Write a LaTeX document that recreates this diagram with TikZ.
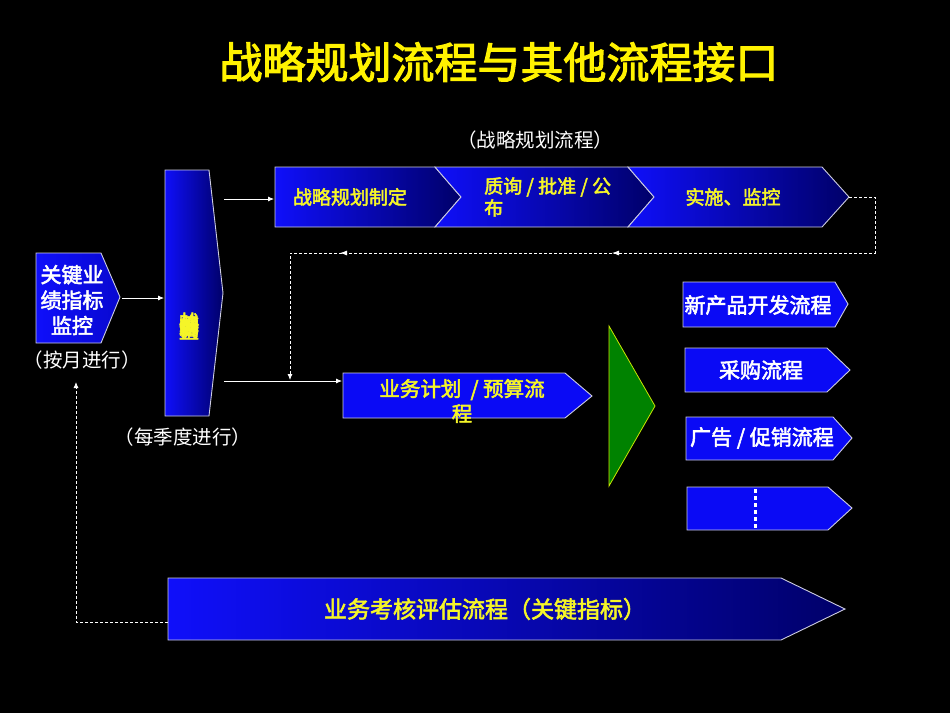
\documentclass[tikz,border=0pt]{standalone}
\usepackage{fontspec}
\newfontfamily\cjk{Noto Sans CJK SC}
\newfontfamily\cjkb[FakeBold=2.5]{Noto Sans CJK SC}
\usetikzlibrary{arrows.meta,decorations.markings}
\definecolor{blueL}{RGB}{15,15,250}
\definecolor{blueD}{RGB}{0,0,105}
\definecolor{blueS}{RGB}{10,10,245}
\definecolor{edge}{RGB}{205,205,225}
\definecolor{ytxt}{RGB}{245,245,40}
\definecolor{greenT}{RGB}{0,130,0}
\definecolor{greenE}{RGB}{200,230,0}
\tikzset{
  boxline/.style={draw=edge, line width=0.9pt, line join=miter},
  gradbox/.style={left color=blueL, right color=blueD, boxline},
  solidbox/.style={fill=blueS, boxline},
  ytext/.style={text=ytxt, font=\cjkb\fontsize{19}{22}\selectfont, inner sep=0pt, align=center},
  wtext/.style={text=white, font=\cjkb\fontsize{21}{25}\selectfont, inner sep=0pt, align=center},
  ptext/.style={text=white, font=\cjk\fontsize{19.5}{22}\selectfont, inner sep=0pt},
  arr/.style={draw=white, line width=0.8pt, -{Latex[length=6pt,width=5pt]}},
  dashline/.style={draw=white, line width=0.8pt, dash pattern=on 3pt off 2pt},
}
\begin{document}
\begin{tikzpicture}[x=1pt,y=-1pt]
\fill[black] (0,0) rectangle (950,713);
\useasboundingbox (0,0) rectangle (950,713);

% title
\node[text=yellow, font=\cjkb\fontsize{43}{46}\selectfont, inner sep=0pt] (title) at (499,62) {战略规划流程与其他流程接口};
\node[ptext] (sub) at (535,140) {（战略规划流程）};

% top chevrons
\shade[gradbox] (275,167) -- (435,167) -- (461,197) -- (435,227) -- (275,227) -- cycle;
\shade[gradbox] (435,167) -- (628,167) -- (654,197) -- (628,227) -- (435,227) -- (461,197) -- cycle;
\shade[gradbox] (628,167) -- (822,167) -- (849,197) -- (822,227) -- (628,227) -- (654,197) -- cycle;
\node[ytext] (s1) at (350,197) {战略规划制定};
\node[ytext, align=left, anchor=west] (s2) at (484,197) {质询 / 批准 / 公\\布};
\node[ytext] (s3) at (733,197) {实施、监控};

% vertical box
\shade[gradbox] (165,170) -- (209,170) -- (223,293) -- (209,416) -- (165,416) -- cycle;
\node[text=ytxt, font=\cjkb\fontsize{20}{20}\selectfont, inner sep=0pt] (vt) at (189,326)
  {\rlap{\raisebox{4.5pt}{战}}\rlap{\raisebox{2.7pt}{略}}\rlap{\raisebox{0.9pt}{规}}\rlap{\raisebox{-0.9pt}{划}}\rlap{\raisebox{-2.7pt}{调}}\raisebox{-4.5pt}{整}};
\node[ptext] (q) at (183,437) {（每季度进行）};

% KPI box
\shade[left color=blueL, right color=blueS!85!black, boxline] (36,253) -- (101,253) -- (120,297) -- (101,343) -- (36,343) -- cycle;
\node[wtext, font=\cjkb\fontsize{21}{25.5}\selectfont] (kpi) at (72,300) {关键业\\绩指标\\监控};
\node[ptext] (m) at (82,360) {（按月进行）};

% business plan box
\fill[blueS] (343,373) -- (565,373) -- (592,396) -- (565,418) -- (343,418) -- cycle;
\draw[boxline] (343,373) -- (565,373) -- (592,396) -- (565,418) -- (343,418) -- cycle;
\node[ytext, font=\cjkb\fontsize{20.5}{25}\selectfont] (bp) at (462,401) {业务计划 \ / 预算流\\程};

% green triangle
\draw[fill=greenT, draw=greenE, line width=0.8pt] (609,326) -- (655,406) -- (609,486) -- cycle;

% right boxes
\fill[blueS] (683,282) -- (835,282) -- (848,304) -- (835,327) -- (683,327) -- cycle;
\draw[boxline] (683,282) -- (835,282) -- (848,304) -- (835,327) -- (683,327) -- cycle;
\node[wtext] (r1) at (758,305) {新产品开发流程};
\fill[blueS] (685,348) -- (827,348) -- (850,370) -- (827,392) -- (685,392) -- cycle;
\draw[boxline] (685,348) -- (827,348) -- (850,370) -- (827,392) -- (685,392) -- cycle;
\node[wtext] (r2) at (761,370) {采购流程};
\fill[blueS] (686,417) -- (833,417) -- (852,438) -- (833,460) -- (686,460) -- cycle;
\draw[boxline] (686,417) -- (833,417) -- (852,438) -- (833,460) -- (686,460) -- cycle;
\node[wtext] (r3) at (762,438) {广告 / 促销流程};
\fill[blueS] (687,487) -- (828,487) -- (852,508) -- (828,530) -- (687,530) -- cycle;
\draw[boxline] (687,487) -- (828,487) -- (852,508) -- (828,530) -- (687,530) -- cycle;
\coordinate (dt) at (755,489);
\coordinate (db) at (755,530);
\draw[white, line width=3pt, dash pattern=on 3.5pt off 3.5pt] (dt) -- (db);

% bottom box
\shade[gradbox] (168,578) -- (781,578) -- (845,609) -- (781,640) -- (168,640) -- cycle;
\node[ytext, font=\cjkb\fontsize{23}{24}\selectfont] (ev) at (485,609) {业务考核评估流程（关键指标）};

% connector coordinates
\coordinate (kpiE) at (122,298);
\coordinate (vW) at (164,298);
\coordinate (vE1) at (224,199);
\coordinate (b1W) at (274,199);
\coordinate (vE2) at (224,381);
\coordinate (bpW) at (342,381);
\coordinate (s3E) at (849,197);
\coordinate (bpN) at (290,380);
\coordinate (evW) at (168,622);
\coordinate (mS) at (76,382);

\draw[arr] (kpiE) -- (vW);
\draw[arr] (vE1) -- (b1W);
\draw[arr] (vE2) -- (bpW);
\draw[dashline, -{Latex[length=6pt,width=5pt]},
  postaction={decorate, decoration={markings,
    mark=at position 345pt with {\arrow[white]{Latex[length=7pt,width=5pt]}},
    mark=at position 617pt with {\arrow[white]{Latex[length=7pt,width=5pt]}}}}]
  (s3E) -- (875,197) -- (875,253) -- (290,253) -- (bpN);
\draw[dashline, -{Latex[length=6pt,width=5pt]}] (evW) -- (76,622) -- (mS);
\end{tikzpicture}
\end{document}
